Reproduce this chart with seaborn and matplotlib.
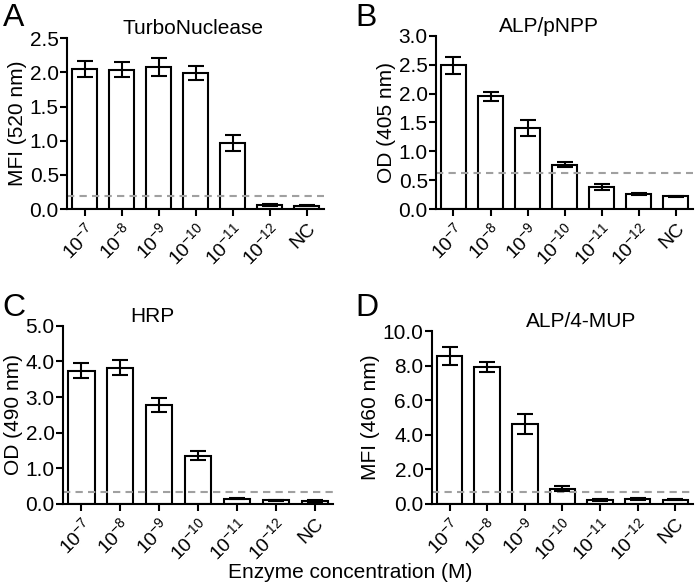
import numpy as np
import pandas as pd
import matplotlib
matplotlib.use('Agg')
import matplotlib.pyplot as plt
import seaborn as sns

# --- DATA ---
conc = [r'10$^{-7}$', r'10$^{-8}$', r'10$^{-9}$', r'10$^{-10}$', r'10$^{-11}$', r'10$^{-12}$', 'NC']

turbo_mean = [2.05, 2.04, 2.08, 1.99, 0.97, 0.063, 0.054]
turbo_err = [0.12, 0.115, 0.13, 0.10, 0.12, 0.01, 0.008]
turbo_cut = 0.19

pnpp_mean = [2.49, 1.95, 1.40, 0.77, 0.38, 0.265, 0.22]
pnpp_err = [0.15, 0.08, 0.14, 0.04, 0.055, 0.02, 0.015]
pnpp_cut = 0.63

hrp_mean = [3.74, 3.83, 2.78, 1.35, 0.15, 0.10, 0.08]
hrp_err = [0.21, 0.21, 0.20, 0.13, 0.02, 0.02, 0.02]
hrp_cut = 0.34

mup_mean = [8.56, 7.93, 4.63, 0.88, 0.25, 0.30, 0.25]
mup_err = [0.50, 0.28, 0.58, 0.15, 0.05, 0.05, 0.04]
mup_cut = 0.67

# --- STYLE ---
sns.set_style('ticks')
plt.rcParams['font.family'] = ['Liberation Sans', 'DejaVu Sans']
plt.rcParams['mathtext.fontset'] = 'custom'
plt.rcParams['mathtext.rm'] = 'Liberation Sans'
plt.rcParams['mathtext.it'] = 'Liberation Sans:italic'
plt.rcParams['mathtext.bf'] = 'Liberation Sans:bold'
for k in ['text.color', 'axes.labelcolor', 'xtick.color', 'ytick.color', 'axes.edgecolor']:
    plt.rcParams[k] = 'black'

fig = plt.figure(figsize=(7.0, 5.86), dpi=100)

panels = [
    # letter, title, ylabel, mean, err, cutoff, ymax, ystep, axes rect, title x
    ('A', 'TurboNuclease', 'MFI (520 nm)', turbo_mean, turbo_err, turbo_cut, 2.5, 0.5,
     [0.096, 0.643, 0.367, 0.292], 0.49),
    ('B', 'ALP/pNPP', 'OD (405 nm)', pnpp_mean, pnpp_err, pnpp_cut, 3.0, 0.5,
     [0.623, 0.643, 0.367, 0.296], 0.44),
    ('C', 'HRP', 'OD (490 nm)', hrp_mean, hrp_err, hrp_cut, 5.0, 1.0,
     [0.090, 0.140, 0.386, 0.304], 0.33),
    ('D', 'ALP/4-MUP', 'MFI (460 nm)', mup_mean, mup_err, mup_cut, 10.0, 2.0,
     [0.617, 0.140, 0.373, 0.295], 0.57),
]

letter_pos = {'A': (0.004, 0.995), 'B': (0.508, 0.995), 'C': (0.004, 0.5), 'D': (0.508, 0.5)}

for letter, title, ylab, mean, err, cut, ymax, ystep, rect, tx in panels:
    ax = fig.add_axes(rect)
    df = pd.DataFrame({'conc': conc, 'value': mean})
    sns.barplot(data=df, x='conc', y='value', ax=ax, color='white', edgecolor='black',
                linewidth=1.5, width=0.68, errorbar=None)
    ax.errorbar(np.arange(len(mean)), mean, yerr=err, fmt='none', ecolor='black',
                elinewidth=1.5, capsize=6, capthick=1.5, zorder=5)
    ax.axhline(cut, color='#a0a0a0', ls=(0, (3.5, 2.5)), lw=1.5, zorder=1)
    ax.set_xlim(-0.47, len(mean) - 0.53)
    ax.set_ylim(0, ymax)
    ax.set_yticks(np.arange(0, ymax + ystep / 2, ystep))
    ax.yaxis.set_major_formatter(matplotlib.ticker.FormatStrFormatter('%.1f'))
    ax.set_xticks(np.arange(len(conc)))
    ax.set_xticklabels(conc, rotation=45, ha='right', rotation_mode='anchor')
    ax.set_xlabel('')
    ax.set_ylabel(ylab, fontsize=15, labelpad=2)
    ax.tick_params(axis='both', width=1.5, length=5, direction='out')
    ax.tick_params(axis='y', labelsize=15, pad=1)
    ax.tick_params(axis='x', labelsize=14, pad=3)
    for s in ['left', 'bottom']:
        ax.spines[s].set_linewidth(1.5)
    sns.despine(ax=ax)
    ax.set_title(title, fontsize=15, x=tx, pad=3)
    lx, ly = letter_pos[letter]
    fig.text(lx, ly, letter, fontsize=23, ha='left', va='top')

fig.text(0.5, 0.014, 'Enzyme concentration (M)', fontsize=15, ha='center', va='baseline')

fig.savefig('out.png', dpi=100)
